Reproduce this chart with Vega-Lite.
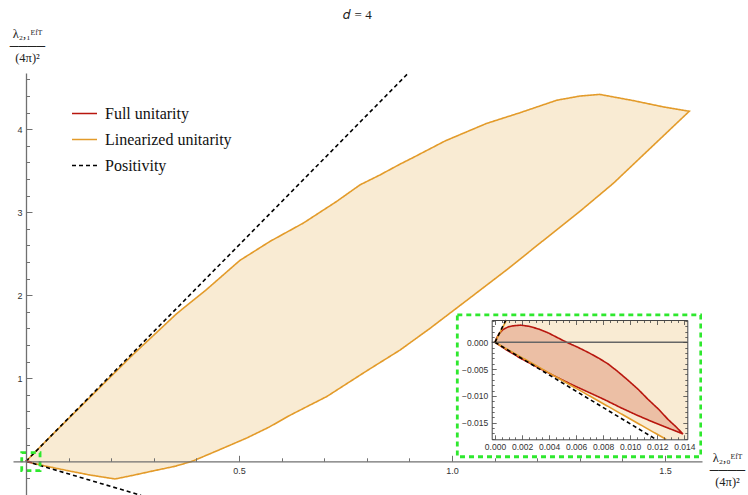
{
  "$schema": "https://vega.github.io/schema/vega-lite/v6.json",
  "width": 689,
  "height": 422,
  "autosize": "none",
  "padding": {"left": 13, "top": 73, "right": 46, "bottom": 0},
  "background": "white",
  "title": {"text": "𝑑 = 4", "font": "Liberation Serif", "fontSize": 13, "fontWeight": "normal", "color": "#222", "anchor": "middle", "frame": "group", "offset": 5},
  "config": {"view": {"stroke": null}, "axis": {"grid": false}},
  "datasets": {
    "lin": [
      {"i": 0, "x": 0, "y": 0}, {"i": 1, "x": 0.05, "y": 0.26}, {"i": 2, "x": 0.1, "y": 0.515}, {"i": 3, "x": 0.15, "y": 0.77},
      {"i": 4, "x": 0.2, "y": 1.025}, {"i": 5, "x": 0.25, "y": 1.28}, {"i": 6, "x": 0.3, "y": 1.52}, {"i": 7, "x": 0.354, "y": 1.78},
      {"i": 8, "x": 0.424, "y": 2.07}, {"i": 9, "x": 0.502, "y": 2.42}, {"i": 10, "x": 0.573, "y": 2.65}, {"i": 11, "x": 0.651, "y": 2.87},
      {"i": 12, "x": 0.729, "y": 3.13}, {"i": 13, "x": 0.784, "y": 3.33}, {"i": 14, "x": 0.831, "y": 3.45}, {"i": 15, "x": 0.878, "y": 3.58},
      {"i": 16, "x": 0.909, "y": 3.66}, {"i": 17, "x": 0.984, "y": 3.86}, {"i": 18, "x": 1.081, "y": 4.07}, {"i": 19, "x": 1.16, "y": 4.2},
      {"i": 20, "x": 1.246, "y": 4.35}, {"i": 21, "x": 1.3, "y": 4.4}, {"i": 22, "x": 1.347, "y": 4.42}, {"i": 23, "x": 1.426, "y": 4.345},
      {"i": 24, "x": 1.496, "y": 4.27}, {"i": 25, "x": 1.557, "y": 4.217}, {"i": 26, "x": 1.457, "y": 3.73}, {"i": 27, "x": 1.379, "y": 3.35},
      {"i": 28, "x": 1.3, "y": 3.01}, {"i": 29, "x": 1.207, "y": 2.63}, {"i": 30, "x": 1.128, "y": 2.305}, {"i": 31, "x": 1.035, "y": 1.94},
      {"i": 32, "x": 0.948, "y": 1.6}, {"i": 33, "x": 0.878, "y": 1.34}, {"i": 34, "x": 0.8, "y": 1.09}, {"i": 35, "x": 0.706, "y": 0.78},
      {"i": 36, "x": 0.66, "y": 0.66}, {"i": 37, "x": 0.62, "y": 0.555}, {"i": 38, "x": 0.57, "y": 0.41}, {"i": 39, "x": 0.518, "y": 0.28},
      {"i": 40, "x": 0.45, "y": 0.13}, {"i": 41, "x": 0.39, "y": 0.0}, {"i": 42, "x": 0.35, "y": -0.06}, {"i": 43, "x": 0.299, "y": -0.115},
      {"i": 44, "x": 0.25, "y": -0.17}, {"i": 45, "x": 0.209, "y": -0.213}, {"i": 46, "x": 0.15, "y": -0.165}, {"i": 47, "x": 0.1, "y": -0.115},
      {"i": 48, "x": 0.05, "y": -0.062}, {"i": 49, "x": 0.02, "y": -0.027}, {"i": 50, "x": 0, "y": 0}
    ],
    "full": [
      {"i": 0, "x": 0, "y": 0}, {"i": 1, "x": 0.0001, "y": 0.0007}, {"i": 2, "x": 0.0003, "y": 0.0016}, {"i": 3, "x": 0.0006, "y": 0.0024},
      {"i": 4, "x": 0.001, "y": 0.0029}, {"i": 5, "x": 0.0014, "y": 0.0031}, {"i": 6, "x": 0.0019, "y": 0.0032}, {"i": 7, "x": 0.0025, "y": 0.003},
      {"i": 8, "x": 0.0032, "y": 0.0025}, {"i": 9, "x": 0.0039, "y": 0.0018}, {"i": 10, "x": 0.0046, "y": 0.0009}, {"i": 11, "x": 0.0053, "y": 0.0},
      {"i": 12, "x": 0.0061, "y": -0.0009}, {"i": 13, "x": 0.0069, "y": -0.0019}, {"i": 14, "x": 0.0077, "y": -0.003}, {"i": 15, "x": 0.0084, "y": -0.0041},
      {"i": 16, "x": 0.0091, "y": -0.0055}, {"i": 17, "x": 0.0098, "y": -0.007}, {"i": 18, "x": 0.0106, "y": -0.0088}, {"i": 19, "x": 0.0113, "y": -0.0106},
      {"i": 20, "x": 0.0121, "y": -0.0125}, {"i": 21, "x": 0.0128, "y": -0.0144}, {"i": 22, "x": 0.0134, "y": -0.0158}, {"i": 23, "x": 0.0139, "y": -0.0171},
      {"i": 24, "x": 0.0128, "y": -0.016}, {"i": 25, "x": 0.0118, "y": -0.015}, {"i": 26, "x": 0.0105, "y": -0.0136}, {"i": 27, "x": 0.0093, "y": -0.0122},
      {"i": 28, "x": 0.0081, "y": -0.0107}, {"i": 29, "x": 0.0069, "y": -0.0093}, {"i": 30, "x": 0.0056, "y": -0.0078}, {"i": 31, "x": 0.0044, "y": -0.0063},
      {"i": 32, "x": 0.0031, "y": -0.0046}, {"i": 33, "x": 0.0019, "y": -0.003}, {"i": 34, "x": 0.0009, "y": -0.0015}, {"i": 35, "x": 0, "y": 0}
    ],
    "pos": [
      {"part": "upper", "x": 0, "y": 0}, {"part": "upper", "x": 0.9, "y": 4.69},
      {"part": "lower", "x": 0, "y": 0}, {"part": "lower", "x": 0.27, "y": -0.41}
    ],
    "boxes": [
      {"box": "small", "x1": -0.010, "x2": 0.033, "y1": -0.113, "y2": 0.104},
      {"box": "big", "x1": 1.0125, "x2": 1.584, "y1": 0.055, "y2": 1.763}
    ],
    "inset_bg": [
      {"i": 0, "x": 0, "y": 0}, {"i": 1, "x": 0.00085, "y": 0.00416}, {"i": 2, "x": 0.014222, "y": 0.00416},
      {"i": 3, "x": 0.014222, "y": -0.0181}, {"i": 4, "x": 0.01265, "y": -0.0181}, {"i": 5, "x": 0, "y": 0}
    ],
    "inset_lin": [
      {"part": "upper", "x": 0, "y": 0}, {"part": "upper", "x": 0.00085, "y": 0.00416},
      {"part": "lower", "x": 0, "y": 0}, {"part": "lower", "x": 0.01265, "y": -0.0181}
    ],
    "inset_pos": [
      {"part": "upper", "x": 0, "y": 0}, {"part": "upper", "x": 0.0008, "y": 0.00416},
      {"part": "lower", "x": 0, "y": 0}, {"part": "lower", "x": 0.0119, "y": -0.0181}
    ],
    "inset_zero": [
      {"x": -0.000244, "y": 0}, {"x": 0.014222, "y": 0}
    ],
    "inset_frame": [
      {"x1": -0.000244, "x2": 0.014222, "y1": -0.0181, "y2": 0.00416}
    ]
  },
  "layer": [
    {
      "layer": [
        {
          "data": {"name": "lin"},
          "mark": {"type": "line", "fill": "#F9EBD3", "strokeWidth": 1.6, "clip": true},
          "encoding": {
            "x": {"field": "x", "type": "quantitative", "scale": {"domain": [-0.0305, 1.5869], "nice": false, "zero": false}, "axis": null},
            "y": {"field": "y", "type": "quantitative", "scale": {"domain": [-0.406, 4.678], "nice": false, "zero": false}, "axis": null},
            "order": {"field": "i", "type": "quantitative"},
            "color": {"datum": "Linearized unitarity", "type": "nominal",
              "scale": {"domain": ["Full unitarity", "Linearized unitarity", "Positivity"], "range": ["#B8160E", "#E39B2A", "#000000"]},
              "legend": {"orient": "none", "legendX": 58, "legendY": 27, "title": null, "symbolType": "stroke", "symbolSize": 625, "symbolStrokeWidth": 1.7,
                "labelFont": "Liberation Serif", "labelFontSize": 16, "labelColor": "#111", "rowPadding": 4, "padding": 0, "labelOffset": 7}},
            "strokeDash": {"datum": "Linearized unitarity", "type": "nominal",
              "scale": {"domain": ["Full unitarity", "Linearized unitarity", "Positivity"], "range": [[1, 0], [1, 0], [4, 3]]}}
          }
        },
        {
          "data": {"name": "pos"},
          "mark": {"type": "line", "strokeWidth": 1.6, "clip": true},
          "encoding": {
            "x": {"field": "x", "type": "quantitative", "scale": {"domain": [-0.0305, 1.5869], "nice": false, "zero": false}, "axis": null},
            "y": {"field": "y", "type": "quantitative", "scale": {"domain": [-0.406, 4.678], "nice": false, "zero": false}, "axis": null},
            "detail": {"field": "part"},
            "color": {"datum": "Positivity", "type": "nominal"},
            "strokeDash": {"datum": "Positivity", "type": "nominal"}
          }
        },
        {
          "data": {"name": "full"},
          "mark": {"type": "line", "fill": "#ECBFA5", "strokeWidth": 1.6, "clip": true},
          "encoding": {
            "x": {"field": "x", "type": "quantitative", "scale": {"domain": [-0.0305, 1.5869], "nice": false, "zero": false}, "axis": null},
            "y": {"field": "y", "type": "quantitative", "scale": {"domain": [-0.406, 4.678], "nice": false, "zero": false}, "axis": null},
            "order": {"field": "i", "type": "quantitative"},
            "color": {"datum": "Full unitarity", "type": "nominal"},
            "strokeDash": {"datum": "Full unitarity", "type": "nominal"}
          }
        },
        {
          "data": {"name": "boxes"},
          "mark": {"type": "rect", "stroke": "#2EE82E", "strokeWidth": 2.8, "strokeDash": [5, 4], "clip": true},
          "encoding": {
            "x": {"field": "x1", "type": "quantitative", "scale": {"domain": [-0.0305, 1.5869], "nice": false, "zero": false},
              "axis": {
                "orient": "bottom", "offset": -33.7, "zindex": 1,
                "values": [0.1, 0.2, 0.3, 0.4, 0.5, 0.6, 0.7, 0.8, 0.9, 1.0, 1.1, 1.2, 1.3, 1.4, 1.5],
                "domainColor": "#707070", "domainWidth": 1.3, "tickColor": "#707070", "tickWidth": 1,
                "tickSize": {"condition": {"test": "abs(datum.value/0.5-round(datum.value/0.5))<0.001", "value": -6}, "value": -3.5},
                "labelExpr": "abs(datum.value/0.5-round(datum.value/0.5))<0.001 ? format(datum.value,'.1f') : ''",
                "labelPadding": 11, "labelFont": "Liberation Sans", "labelFontSize": 9, "labelColor": "#333", "labelOverlap": false, "labelFlush": false,
                "title": ["λ₂,₀ᴱᶠᵀ", "────", "(4π)²"], "titleFont": "Liberation Serif", "titleFontSize": 12.5, "titleFontWeight": "normal", "titleColor": "#222",
                "titleAngle": 0, "titleX": 714, "titleY": -10, "titleAlign": "center", "titleBaseline": "top", "titleLineHeight": 12
              }},
            "x2": {"field": "x2"},
            "y": {"field": "y1", "type": "quantitative", "scale": {"domain": [-0.406, 4.678], "nice": false, "zero": false},
              "axis": {
                "orient": "left", "offset": -13, "zindex": 1,
                "values": [-0.4, -0.2, 0.2, 0.4, 0.6, 0.8, 1, 1.2, 1.4, 1.6, 1.8, 2, 2.2, 2.4, 2.6, 2.8, 3, 3.2, 3.4, 3.6, 3.8, 4, 4.2, 4.4, 4.6],
                "domainColor": "#707070", "domainWidth": 1.3, "tickColor": "#707070", "tickWidth": 1,
                "tickSize": {"condition": {"test": "abs(datum.value-round(datum.value))<0.001", "value": -6}, "value": -3.5},
                "labelExpr": "abs(datum.value-round(datum.value))<0.001 ? format(datum.value,'d') : ''",
                "labelPadding": 10, "labelFont": "Liberation Sans", "labelFontSize": 9, "labelColor": "#333", "labelOverlap": false, "labelFlush": false,
                "title": ["λ₂,₁ᴱᶠᵀ", "────", "(4π)²"], "titleFont": "Liberation Serif", "titleFontSize": 12.5, "titleFontWeight": "normal", "titleColor": "#222",
                "titleAngle": 0, "titleX": 1, "titleY": -46, "titleAlign": "center", "titleBaseline": "top", "titleLineHeight": 12
              }},
            "y2": {"field": "y2"},
            "fill": {"field": "box", "type": "nominal", "scale": {"domain": ["small", "big"], "range": ["transparent", "white"]}, "legend": null}
          }
        }
      ],
      "resolve": {"axis": {"x": "independent", "y": "independent"}}
    },
    {
      "layer": [
        {
          "data": {"name": "inset_bg"},
          "mark": {"type": "line", "fill": "#F9EBD3", "strokeWidth": 0},
          "encoding": {
            "x": {"field": "x", "type": "quantitative", "scale": {"domain": [-0.000244, 0.014222], "range": [478.7, 674.3], "nice": false, "zero": false}, "axis": null},
            "y": {"field": "y", "type": "quantitative", "scale": {"domain": [-0.0181, 0.00416], "range": [366.3, 247], "nice": false, "zero": false}, "axis": null},
            "order": {"field": "i", "type": "quantitative"}
          }
        },
        {
          "data": {"name": "full"},
          "mark": {"type": "line", "fill": "#ECBFA5", "strokeWidth": 1.6},
          "encoding": {
            "x": {"field": "x", "type": "quantitative", "axis": null},
            "y": {"field": "y", "type": "quantitative", "axis": null},
            "order": {"field": "i", "type": "quantitative"},
            "color": {"datum": "Full unitarity", "type": "nominal"},
            "strokeDash": {"datum": "Full unitarity", "type": "nominal"}
          }
        },
        {
          "data": {"name": "inset_zero"},
          "mark": {"type": "line", "color": "#666666", "strokeWidth": 1.6},
          "encoding": {
            "x": {"field": "x", "type": "quantitative", "axis": null},
            "y": {"field": "y", "type": "quantitative", "axis": null}
          }
        },
        {
          "data": {"name": "inset_lin"},
          "mark": {"type": "line", "strokeWidth": 1.6},
          "encoding": {
            "x": {"field": "x", "type": "quantitative", "axis": null},
            "y": {"field": "y", "type": "quantitative", "axis": null},
            "detail": {"field": "part"},
            "color": {"datum": "Linearized unitarity", "type": "nominal"},
            "strokeDash": {"datum": "Linearized unitarity", "type": "nominal"}
          }
        },
        {
          "data": {"name": "inset_pos"},
          "mark": {"type": "line", "strokeWidth": 1.6},
          "encoding": {
            "x": {"field": "x", "type": "quantitative", "axis": null},
            "y": {"field": "y", "type": "quantitative", "axis": null},
            "detail": {"field": "part"},
            "color": {"datum": "Positivity", "type": "nominal"},
            "strokeDash": {"datum": "Positivity", "type": "nominal"}
          }
        },
        {
          "data": {"name": "inset_frame"},
          "mark": {"type": "rect", "fillOpacity": 0, "strokeOpacity": 0},
          "encoding": {
            "x": {"field": "x1", "type": "quantitative",
              "axis": {"orient": "bottom", "offset": -55.7, "zindex": 1, "title": null,
                "values": [0, 0.0005, 0.001, 0.0015, 0.002, 0.0025, 0.003, 0.0035, 0.004, 0.0045, 0.005, 0.0055, 0.006, 0.0065, 0.007, 0.0075, 0.008, 0.0085, 0.009, 0.0095, 0.01, 0.0105, 0.011, 0.0115, 0.012, 0.0125, 0.013, 0.0135, 0.014],
                "domainColor": "#444", "domainWidth": 1, "tickColor": "#444", "tickWidth": 0.8,
                "tickSize": {"condition": {"test": "abs(datum.value/0.002-round(datum.value/0.002))<0.001", "value": -4.5}, "value": -2.5},
                "labelExpr": "abs(datum.value/0.002-round(datum.value/0.002))<0.001 ? format(datum.value,'.3f') : ''",
                "labelPadding": 7.5, "labelFont": "Liberation Sans", "labelFontSize": 8.5, "labelColor": "#333", "labelOverlap": false, "labelFlush": false}},
            "x2": {"field": "x2"},
            "y": {"field": "y1", "type": "quantitative",
              "axis": {"orient": "left", "offset": -478.7, "zindex": 1, "title": null,
                "values": [-0.018, -0.017, -0.016, -0.015, -0.014, -0.013, -0.012, -0.011, -0.01, -0.009, -0.008, -0.007, -0.006, -0.005, -0.004, -0.003, -0.002, -0.001, 0, 0.001, 0.002, 0.003, 0.004],
                "domainColor": "#444", "domainWidth": 1, "tickColor": "#444", "tickWidth": 0.8,
                "tickSize": {"condition": {"test": "abs(datum.value/0.005-round(datum.value/0.005))<0.001", "value": -4.5}, "value": -2.5},
                "labelExpr": "abs(datum.value/0.005-round(datum.value/0.005))<0.001 ? format(datum.value,'.3f') : ''",
                "labelPadding": 8.5, "labelFont": "Liberation Sans", "labelFontSize": 8.5, "labelColor": "#333", "labelOverlap": false, "labelFlush": false}},
            "y2": {"field": "y2"}
          }
        },
        {
          "data": {"name": "inset_frame"},
          "mark": {"type": "rect", "fillOpacity": 0, "strokeOpacity": 0},
          "encoding": {
            "x": {"field": "x1", "type": "quantitative",
              "axis": {"orient": "top", "offset": -247, "zindex": 1, "title": null, "labels": false,
                "values": [0, 0.0005, 0.001, 0.0015, 0.002, 0.0025, 0.003, 0.0035, 0.004, 0.0045, 0.005, 0.0055, 0.006, 0.0065, 0.007, 0.0075, 0.008, 0.0085, 0.009, 0.0095, 0.01, 0.0105, 0.011, 0.0115, 0.012, 0.0125, 0.013, 0.0135, 0.014],
                "domainColor": "#444", "domainWidth": 1, "tickColor": "#444", "tickWidth": 0.8,
                "tickSize": {"condition": {"test": "abs(datum.value/0.002-round(datum.value/0.002))<0.001", "value": -4.5}, "value": -2.5}}},
            "x2": {"field": "x2"},
            "y": {"field": "y1", "type": "quantitative",
              "axis": {"orient": "right", "offset": -14.7, "zindex": 1, "title": null, "labels": false,
                "values": [-0.018, -0.017, -0.016, -0.015, -0.014, -0.013, -0.012, -0.011, -0.01, -0.009, -0.008, -0.007, -0.006, -0.005, -0.004, -0.003, -0.002, -0.001, 0, 0.001, 0.002, 0.003, 0.004],
                "domainColor": "#444", "domainWidth": 1, "tickColor": "#444", "tickWidth": 0.8,
                "tickSize": {"condition": {"test": "abs(datum.value/0.005-round(datum.value/0.005))<0.001", "value": -4.5}, "value": -2.5}}},
            "y2": {"field": "y2"}
          }
        }
      ],
      "resolve": {"axis": {"x": "independent", "y": "independent"}}
    }
  ],
  "resolve": {"scale": {"x": "independent", "y": "independent"}}
}
